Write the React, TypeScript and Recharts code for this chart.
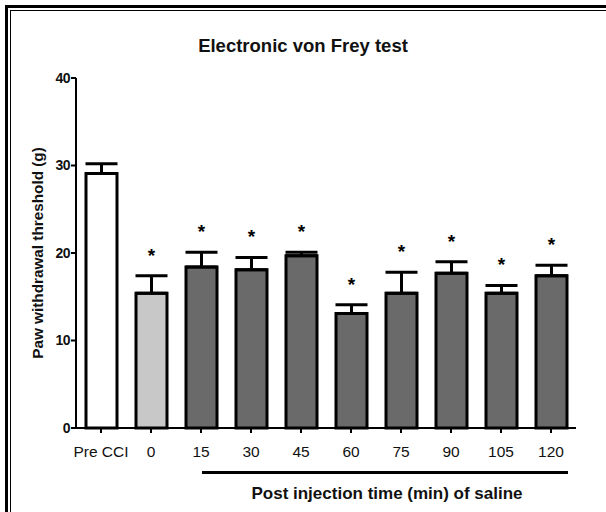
import React from "react";
import { BarChart, Bar, XAxis, YAxis, ErrorBar, Cell, LabelList, Label } from "recharts";

const categories = ["Pre CCI", "0", "15", "30", "45", "60", "75", "90", "105", "120"];
const means = [29.1, 15.4, 18.4, 18.1, 19.7, 13.1, 15.4, 17.7, 15.4, 17.4];
const sems = [1.1, 2.0, 1.7, 1.4, 0.4, 1.0, 2.4, 1.3, 0.9, 1.2];
const marks = ["", "*", "*", "*", "*", "*", "*", "*", "*", "*"];
const yTicks = [0, 10, 20, 30, 40];

const data = categories.map((name, i) => ({
  name,
  mean: means[i],
  err: [0, sems[i]],
  mark: marks[i],
}));

const FONT = "Arial, 'Liberation Sans', sans-serif";

// white for baseline, light grey for time 0, dark grey after injection
const fillFor = (i: number) => (i === 0 ? "#ffffff" : i === 1 ? "#c8c8c8" : "#6a6a6a");

const Star = (props: any) => {
  const { x, y, width, height, value, index } = props;
  if (!value) return null;
  const perUnit = height / means[index];
  const capY = y - sems[index] * perUnit;
  return (
    <text
      x={x + width / 2}
      y={capY - 14}
      textAnchor="middle"
      fontSize={19}
      fontWeight="bold"
      fontFamily={FONT}
      fill="#000"
    >
      {value}
    </text>
  );
};

const App: React.FC = () => {
  return (
    <div
      style={{
        position: "absolute",
        left: 0,
        top: 0,
        width: 606,
        height: 512,
        background: "#fff",
        fontFamily: FONT,
        overflow: "hidden",
      }}
    >
      {/* double frame, only the top/left edges are in view */}
      <div style={{ position: "absolute", left: 5, top: 5, right: -10, bottom: -10, borderLeft: "3px solid #000", borderTop: "3px solid #000" }} />
      <div style={{ position: "absolute", left: 10, top: 10, right: -10, bottom: -10, borderLeft: "1px solid #000", borderTop: "1px solid #000" }} />

      <div
        style={{
          position: "absolute",
          left: 0,
          width: 606,
          top: 35,
          textAlign: "center",
          fontWeight: "bold",
          fontSize: 18.5,
          color: "#111",
        }}
      >
        Electronic von Frey test
      </div>

      <div style={{ position: "absolute", left: 0, top: 0 }}>
        <BarChart
          width={606}
          height={512}
          data={data}
          margin={{ top: 78, right: 30, left: 0, bottom: 54 }}
          barSize={31}
        >
          <XAxis
            dataKey="name"
            height={30}
            tickSize={5}
            tickMargin={13}
            axisLine={{ stroke: "#000", strokeWidth: 2 }}
            tickLine={{ stroke: "#000", strokeWidth: 2 }}
            tick={{ fill: "#111", fontSize: 15.5, fontFamily: FONT }}
            interval={0}
          />
          <YAxis
            width={76}
            domain={[0, 40]}
            ticks={yTicks}
            tickSize={5}
            tickMargin={1}
            axisLine={{ stroke: "#000", strokeWidth: 2 }}
            tickLine={{ stroke: "#000", strokeWidth: 2 }}
            tick={{ fill: "#111", fontSize: 14, fontWeight: "bold", fontFamily: FONT, letterSpacing: -0.5 }}
          >
            <Label
              content={(p: any) => {
                const vb = p.viewBox || {};
                const cy = (vb.y ?? 78) + (vb.height ?? 350) / 2;
                return (
                  <text
                    x={37}
                    y={cy}
                    transform={`rotate(-90, 37, ${cy})`}
                    textAnchor="middle"
                    dominantBaseline="central"
                    fontSize={15.3}
                    fontWeight="bold"
                    fontFamily={FONT}
                    fill="#111"
                  >
                    Paw withdrawal threshold (g)
                  </text>
                );
              }}
            />
          </YAxis>
          <Bar dataKey="mean" stroke="#000" strokeWidth={3} isAnimationActive={false}>
            {data.map((_, i) => (
              <Cell key={i} fill={fillFor(i)} />
            ))}
            <ErrorBar
              dataKey="err"
              direction="y"
              width={16}
              stroke="#000"
              strokeWidth={3}
              isAnimationActive={false}
            />
            <LabelList dataKey="mark" content={<Star />} />
          </Bar>
        </BarChart>
      </div>

      {/* bracket under the post-injection time points */}
      <div style={{ position: "absolute", left: 202, top: 471, width: 366, height: 3, background: "#000" }} />
      <div
        style={{
          position: "absolute",
          left: 202,
          width: 370,
          top: 484,
          textAlign: "center",
          fontWeight: "bold",
          fontSize: 17,
          color: "#111",
        }}
      >
        Post injection time (min) of saline
      </div>
    </div>
  );
};

export default App;
